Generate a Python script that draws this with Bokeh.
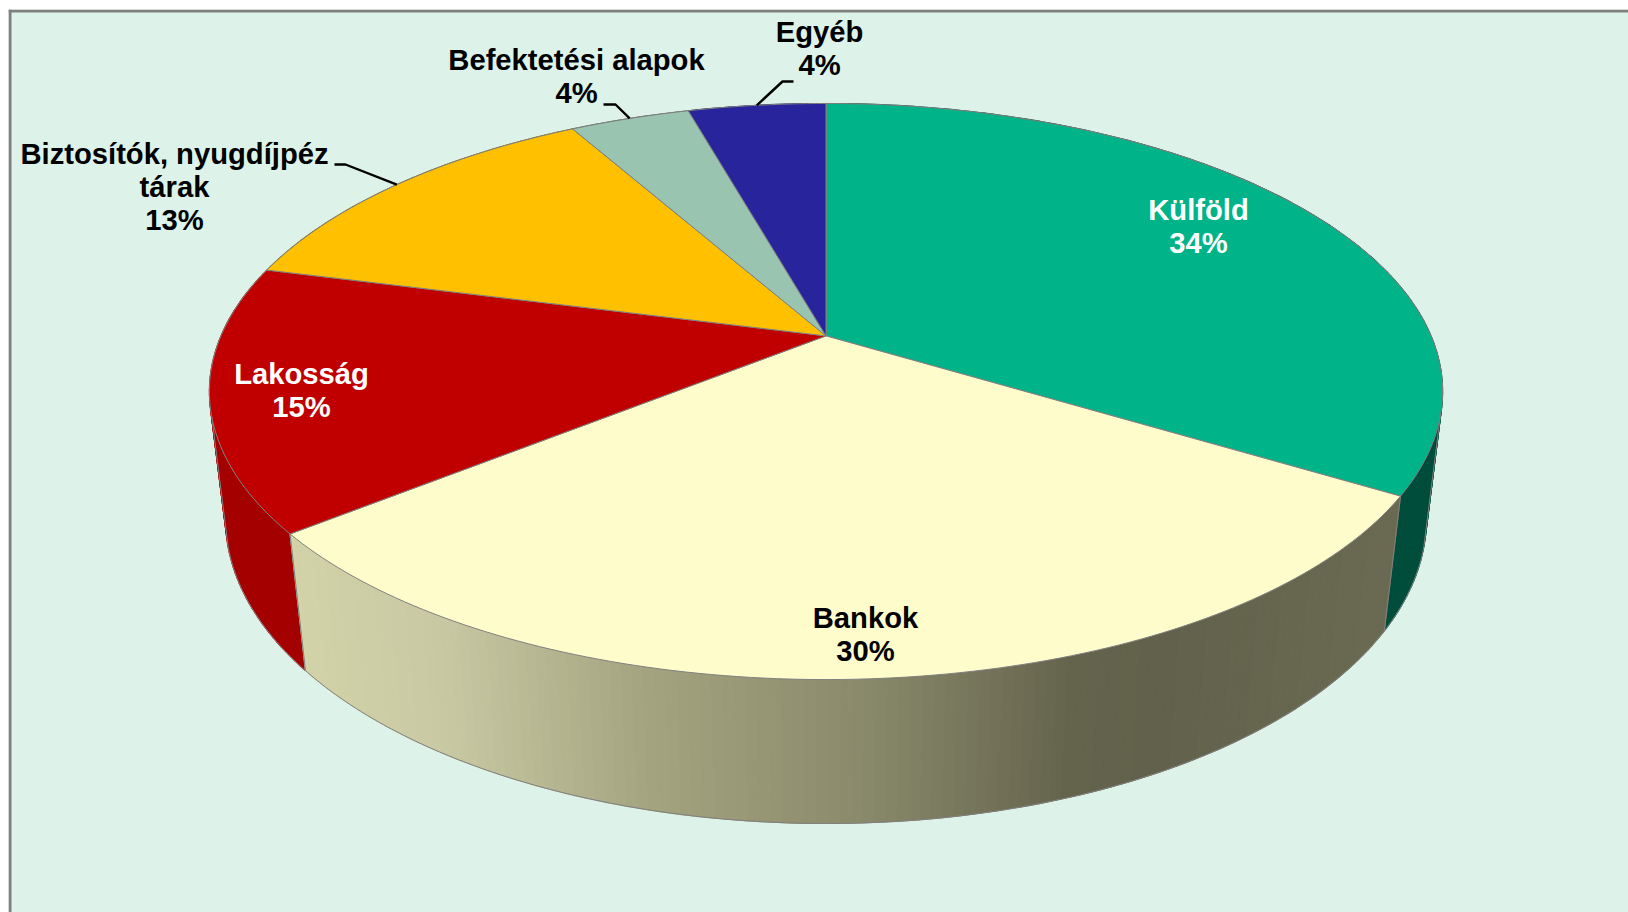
import math
from bokeh.plotting import figure
from bokeh.models import Range1d
from bokeh.embed import file_html
from bokeh.resources import INLINE
from bokeh.core.properties import value

# data
categories = ["Külföld", "Bankok", "Lakosság", "Biztosítók, nyugdíjpéz\ntárak", "Befektetési alapok", "Egyéb"]
shares = [33.7, 30.5, 14.8, 12.86, 3.79, 4.35]
pct_labels = ["34%", "30%", "15%", "13%", "4%", "4%"]
top_colors = ["#00B388", "#FFFCCC", "#C00000", "#FFC000", "#99C5B0", "#27249C"]
side_colors = ["#004D3B", None, "#A50000", "#8A6C00", "#56705F", "#15145A"]
# Bankok wall shading, by horizontal position on the page
shade_x = [290, 440, 650, 826, 1000, 1075, 1163, 1268, 1385]
shade_col = [(211, 211, 169), (200, 200, 163), (163, 163, 127), (143, 143, 112), (114, 113, 88), (100, 99, 76), (98, 97, 75), (102, 101, 78), (106, 105, 82)]

# projection of the disc (page pixels)
CX, CY, A, B, P = 825.5, 335.4, 605.0, 277.3, 0.1931
Q, H = 0.026, 128.8
TANGENT = math.radians(106)  # where the wall's outer edge leaves the upper rim

def top(t):
    u, v = math.sin(t), math.cos(t)
    w = 1 + P * v
    return CX + A * u / w, CY - B * v / w

def bottom(t):
    u, v = math.sin(t), math.cos(t)
    w = 1 + P * v + Q
    return CX + A * u / w, CY + (H - B * v) / w

def shade(x):
    if x <= shade_x[0]:
        c = shade_col[0]
    elif x >= shade_x[-1]:
        c = shade_col[-1]
    else:
        for i in range(len(shade_x) - 1):
            if shade_x[i] <= x <= shade_x[i + 1]:
                f = (x - shade_x[i]) / (shade_x[i + 1] - shade_x[i])
                c = [shade_col[i][k] + f * (shade_col[i + 1][k] - shade_col[i][k]) for k in range(3)]
                break
    return "#%02X%02X%02X" % tuple(int(round(k)) for k in c)

p = figure(width=1628, height=912, output_backend="svg", toolbar_location=None,
           x_range=Range1d(8, 1628), y_range=Range1d(912, 9),
           min_border_left=8, min_border_top=9, min_border_right=0, min_border_bottom=0,
           background_fill_color="#DDF2E9", border_fill_color="#FFFFFF", outline_line_color=None)
p.axis.visible = False
p.grid.visible = False

total = sum(shares)
edges = [0.0]
for s in shares:
    edges.append(edges[-1] + s)
ang = [e / total * 2 * math.pi for e in edges]

# frame lines (top, left)
p.line([9.5, 9.5], [912, 9], line_color="#808080", line_width=3)
p.line([8, 1628], [10.5, 10.5], line_color="#808080", line_width=3)

# walls, drawn from the back forward
walls = []
for i in range(len(shares)):
    n = max(2, int((ang[i + 1] - ang[i]) / (2 * math.pi) * 400))
    for j in range(n):
        a0 = ang[i] + (ang[i + 1] - ang[i]) * j / n
        a1 = ang[i] + (ang[i + 1] - ang[i]) * (j + 1) / n
        walls.append((math.cos((a0 + a1) / 2), i, a0, a1))
walls.sort(key=lambda r: -r[0])
xs, ys, cols = [], [], []
for _, i, a0, a1 in walls:
    pts = [top(a0), top(a1), bottom(a1), bottom(a0)]
    xs.append([q[0] for q in pts])
    ys.append([q[1] for q in pts])
    cols.append(side_colors[i] or shade((pts[0][0] + pts[1][0]) / 2))
p.patches(xs, ys, fill_color=cols, line_color=cols, line_width=1.2)

# outline of the visible lower rim, the wall's outer edges and slice edges on the wall
rim = [TANGENT + k / 300 * (2 * math.pi - 2 * TANGENT) for k in range(301)]
p.line([bottom(a)[0] for a in rim], [bottom(a)[1] for a in rim], line_color="#808080", line_width=1)
for e in (TANGENT, 2 * math.pi - TANGENT, ang[1], ang[2]):
    p.line([top(e)[0], bottom(e)[0]], [top(e)[1], bottom(e)[1]], line_color="#808080", line_width=1)

# top face
for i in range(len(shares)):
    n = max(8, int((ang[i + 1] - ang[i]) / (2 * math.pi) * 360))
    pts = [top(ang[i] + (ang[i + 1] - ang[i]) * j / n) for j in range(n + 1)]
    p.patch([CX] + [q[0] for q in pts], [CY] + [q[1] for q in pts],
            fill_color=top_colors[i], line_color="#808080", line_width=1)

# leader lines, ending at the rim at mid-slice
leader_starts = {3: [(334, 164), (345, 164)], 4: [(603, 104), (615, 104)], 5: [(793, 81), (782, 81)]}
for i, st in leader_starts.items():
    end = top((ang[i] + ang[i + 1]) / 2)
    p.line([q[0] for q in st] + [end[0]], [q[1] for q in st] + [end[1]], line_color="#000000", line_width=2.4)

# labels
label_pos = [(1198, 209), (865, 617), (301, 373), (174, 153), (576, 59), (819, 31)]
label_col = ["#FFFFFF", "#000000", "#FFFFFF", "#000000", "#000000", "#000000"]
LINE = 33
for i, c in enumerate(categories):
    lines = c.split("\n") + [pct_labels[i]]
    x0, y0 = label_pos[i]
    p.text([x0] * len(lines), [y0 + k * LINE for k in range(len(lines))], text=lines,
           text_font=value("Liberation Sans"), text_font_style="bold", text_font_size="29.2px",
           text_color=label_col[i], text_align="center", text_baseline="middle")

open("out.html", "w").write(file_html(p, INLINE))
